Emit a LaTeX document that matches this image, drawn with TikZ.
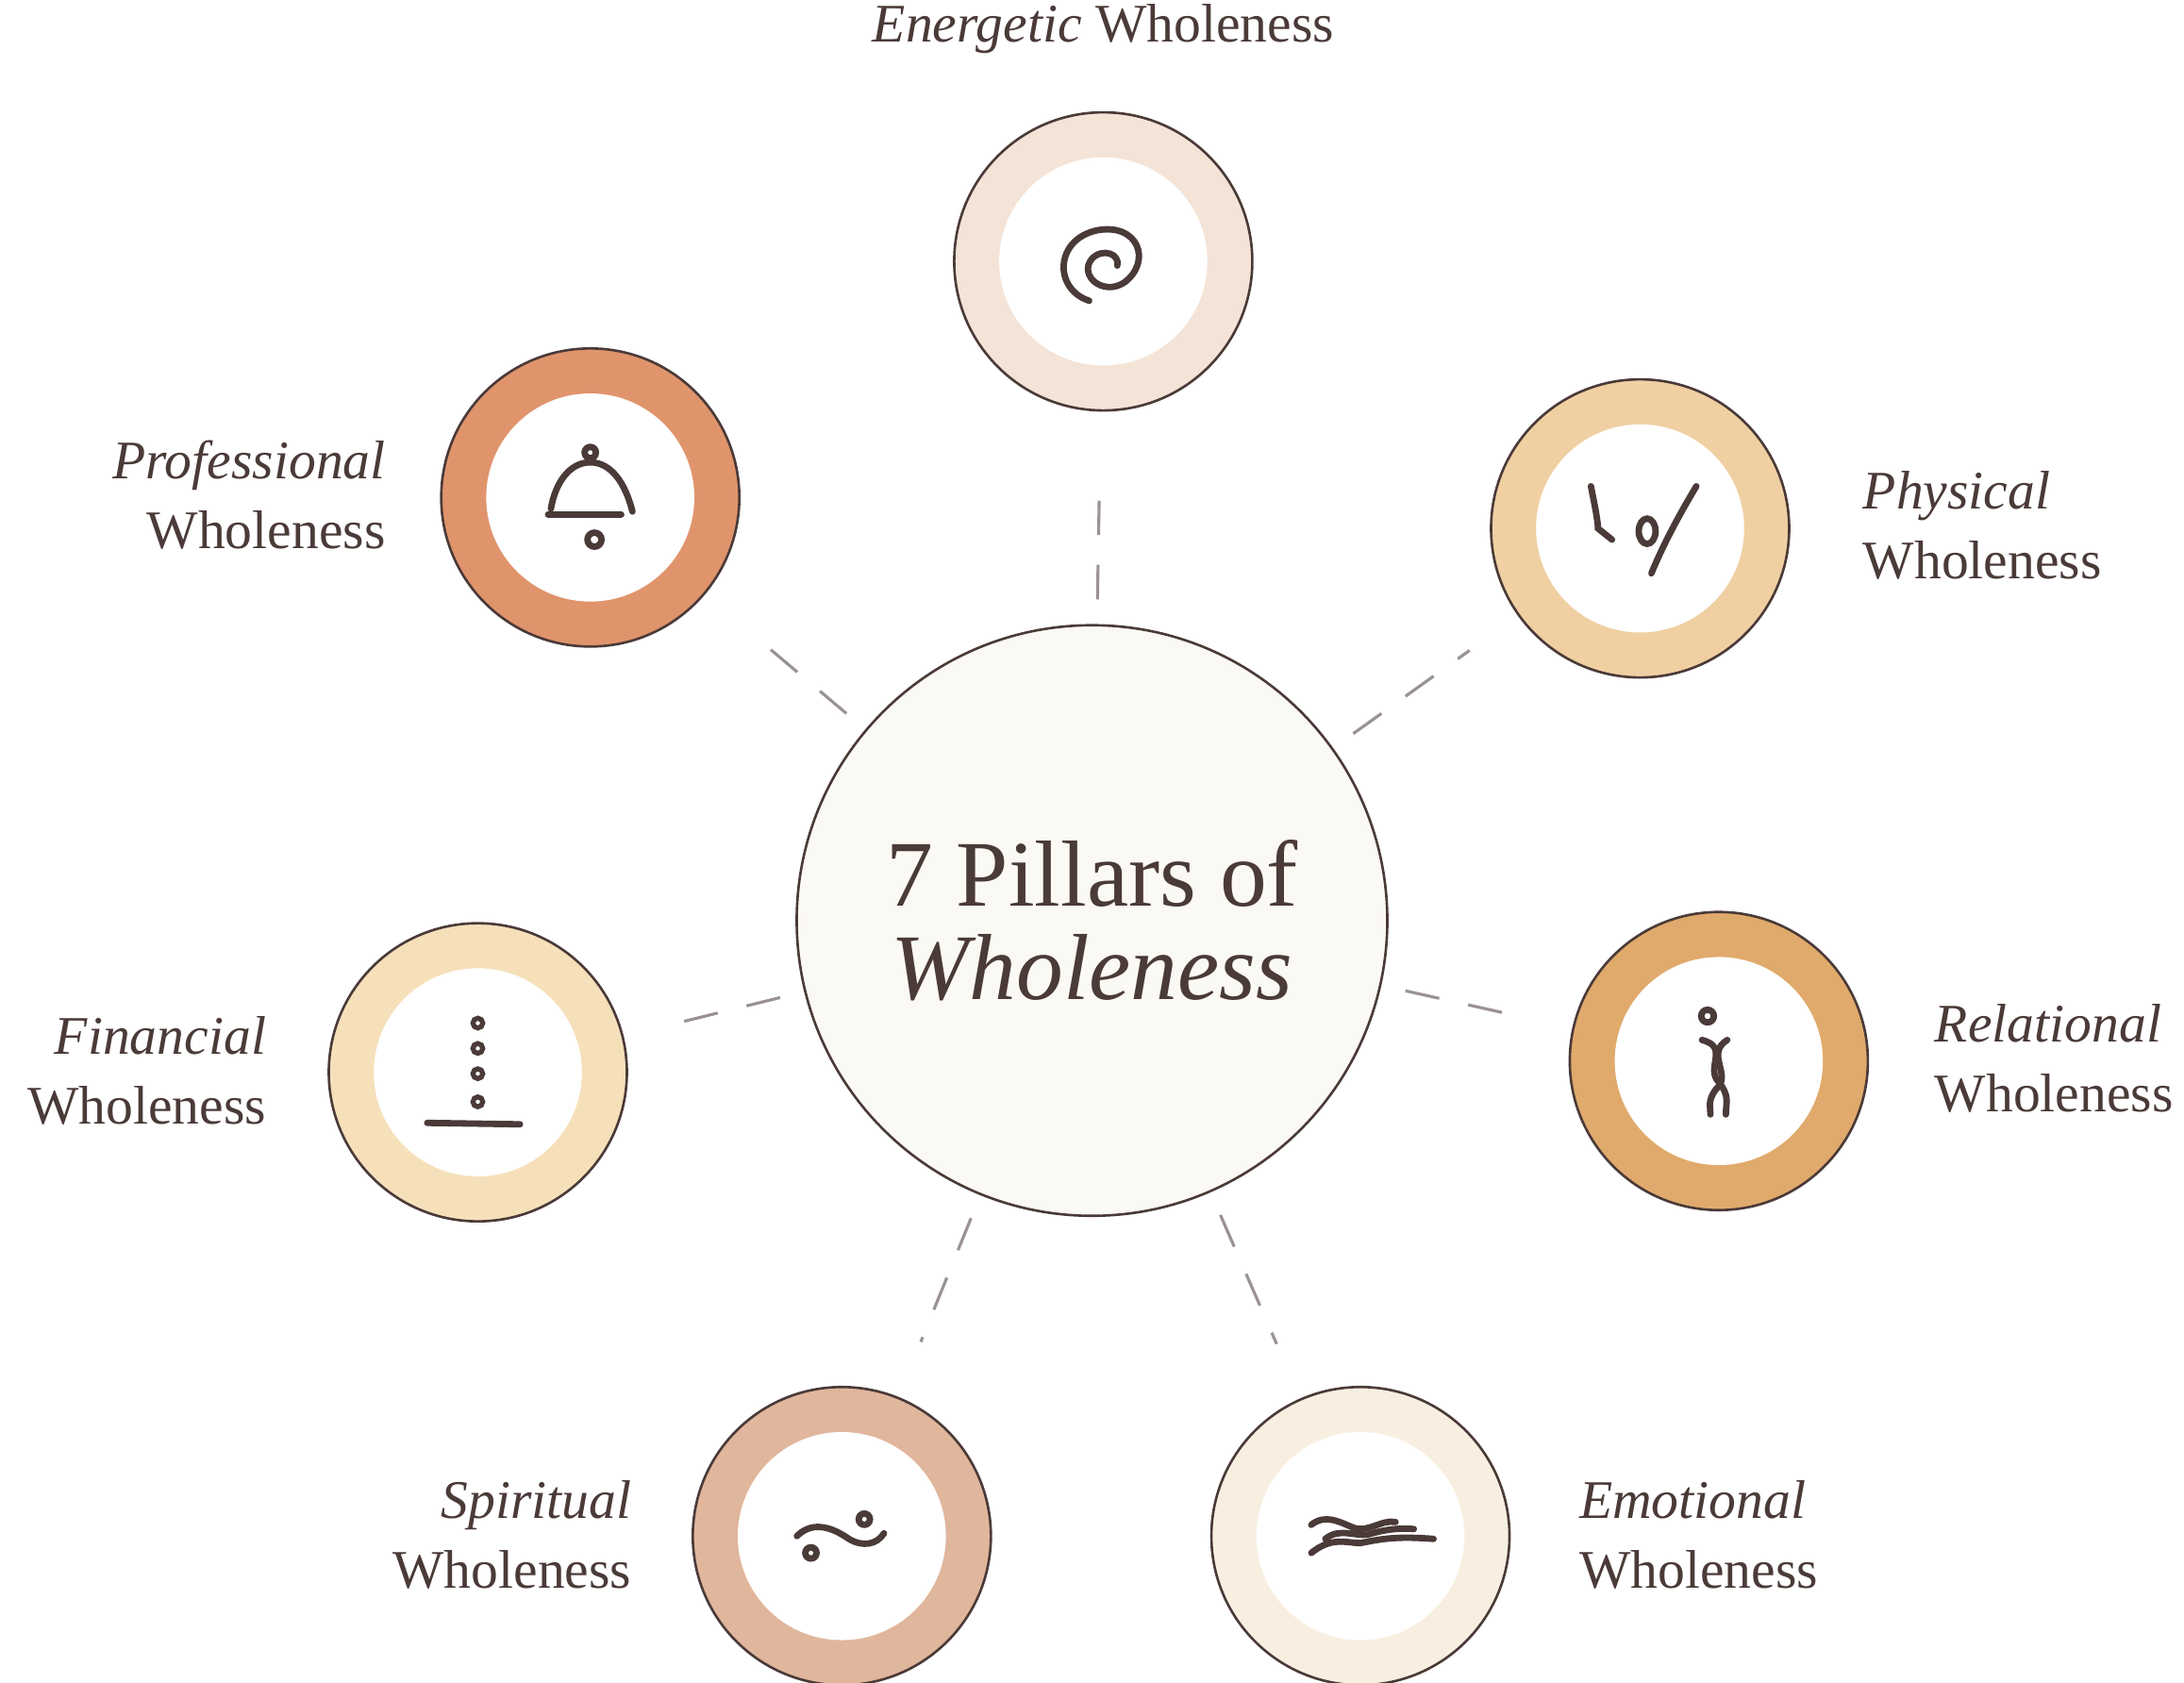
\documentclass[tikz,border=0pt]{standalone}
\usepackage{fontspec}
\setmainfont{Liberation Serif}
\usetikzlibrary{positioning}
\definecolor{ink}{HTML}{4A3A38}
\definecolor{dashc}{HTML}{9A9292}
\definecolor{cEne}{HTML}{F4E4D7}
\definecolor{cPro}{HTML}{E0946C}
\definecolor{cPhy}{HTML}{F0D0A2}
\definecolor{cFin}{HTML}{F6E0BA}
\definecolor{cRel}{HTML}{E0AA6C}
\definecolor{cSpi}{HTML}{E0B69C}
\definecolor{cEmo}{HTML}{F8EFE0}
\definecolor{cCen}{HTML}{FBF9F4}
\tikzset{
  pillar/.style={circle,draw=ink,line width=0.5pt,minimum size=2.12cm,inner sep=0pt},
  hole/.style={circle,fill=white,minimum size=1.48cm,inner sep=0pt},
  lbl/.style={text=ink,font=\fontsize{11}{14.2}\selectfont,inner sep=0pt},
  link/.style={dashc,dash pattern=on 7pt off 6pt,line width=0.6pt,shorten <=5pt,shorten >=12pt},
  glyph/.style={ink,line width=1.3pt,line cap=round}
}
\begin{document}
\begin{tikzpicture}[x=0.01cm,y=-0.01cm]
  \useasboundingbox (0,0) rectangle (1554,1197);
  % center
  \node[circle,draw=ink,line width=0.5pt,fill=cCen,minimum size=4.2cm,align=center,text=ink,
        font=\fontsize{19}{19}\selectfont] (c) at (777,655) {7 Pillars of\\\textit{Wholeness}};
  % pillars
  \node[pillar,fill=cEne] (ene) at (785,186) {};
  \node[pillar,fill=cPro] (pro) at (420,354) {};
  \node[pillar,fill=cPhy] (phy) at (1167,376) {};
  \node[pillar,fill=cFin] (fin) at (340,763) {};
  \node[pillar,fill=cRel] (rel) at (1223,755) {};
  \node[pillar,fill=cSpi] (spi) at (599,1093) {};
  \node[pillar,fill=cEmo] (emo) at (968,1093) {};
  \foreach \p in {ene,pro,phy,fin,rel,spi,emo}
    \node[hole] at (\p) {};
  % links
  \foreach \p in {ene,pro,phy,fin,rel,spi,emo}
    \draw[link] (c) -- (\p);
  % labels
  \node[lbl,anchor=base] (lene) at (785,30) {\textit{Energetic} Wholeness};
  \node[lbl,anchor=east,align=right] (lpro) at (275,352) {\textit{Professional}\\Wholeness};
  \node[lbl,anchor=west,align=left] (lphy) at (1325,374) {\textit{Physical}\\Wholeness};
  \node[lbl,anchor=east,align=right] (lfin) at (190,762) {\textit{Financial}\\Wholeness};
  \node[lbl,anchor=west,align=left] (lrel) at (1376,753) {\textit{Relational}\\Wholeness};
  \node[lbl,anchor=east,align=right] (lspi) at (450,1092) {\textit{Spiritual}\\Wholeness};
  \node[lbl,anchor=west,align=left] (lemo) at (1123,1092) {\textit{Emotional}\\Wholeness};
  % glyphs
  \begin{scope}[shift={(ene.center)}]
    \draw[glyph] (-10,28) .. controls (-35,20) and (-35,-15) .. (-5,-22)
      .. controls (25,-28) and (35,0) .. (15,15) .. controls (0,25) and (-18,10) .. (-8,-2)
      .. controls (0,-10) and (12,-5) .. (10,3);
  \end{scope}
  \begin{scope}[shift={(pro.center)}]
    \draw[glyph] (-28,8) .. controls (-25,-10) and (-15,-25) .. (0,-25)
      .. controls (15,-25) and (25,-10) .. (30,10);
    \draw[glyph] (-30,12) -- (22,12);
    \draw[glyph] (0,-32) circle (4);
    \draw[glyph] (3,30) circle (5);
  \end{scope}
  \begin{scope}[shift={(phy.center)}]
    \draw[glyph] (-35,-30) .. controls (-32,-15) and (-30,-5) .. (-30,0) -- (-20,8);
    \draw[glyph] (40,-30) .. controls (25,-5) and (15,15) .. (8,32);
    \draw[glyph] (5,2) ellipse (6 and 9);
  \end{scope}
  \begin{scope}[shift={(fin.center)}]
    \foreach \yy in {-35,-17,1,21} \draw[glyph,line width=1pt] (0,\yy) circle (3.5);
    \draw[glyph] (-36,36) -- (30,37);
  \end{scope}
  \begin{scope}[shift={(rel.center)}]
    \draw[glyph] (-8,-32) circle (4.5);
    \draw[glyph] (-12,-15) .. controls (8,-10) and (-10,5) .. (0,15) .. controls (8,25) and (5,30) .. (5,38);
    \draw[glyph] (6,-15) .. controls (-10,-5) and (10,10) .. (-2,20) .. controls (-8,28) and (-6,32) .. (-6,38);
  \end{scope}
  \begin{scope}[shift={(spi.center)}]
    \draw[glyph] (-32,0) .. controls (-20,-12) and (-5,-5) .. (5,2) .. controls (15,8) and (25,6) .. (30,-2);
    \draw[glyph] (-22,12) circle (4);
    \draw[glyph] (16,-12) circle (4);
  \end{scope}
  \begin{scope}[shift={(emo.center)}]
    \draw[glyph] (-35,-8) .. controls (-25,-16) and (-15,-10) .. (-5,-6) .. controls (5,-2) and (15,-12) .. (25,-10);
    \draw[glyph] (-35,12) .. controls (-20,0) and (-10,5) .. (0,5) .. controls (15,2) and (25,0) .. (52,2);
    \draw[glyph] (-25,2) .. controls (-15,-6) and (-5,0) .. (5,-1) .. controls (15,-4) and (25,-6) .. (38,-5);
  \end{scope}
\end{tikzpicture}
\end{document}
